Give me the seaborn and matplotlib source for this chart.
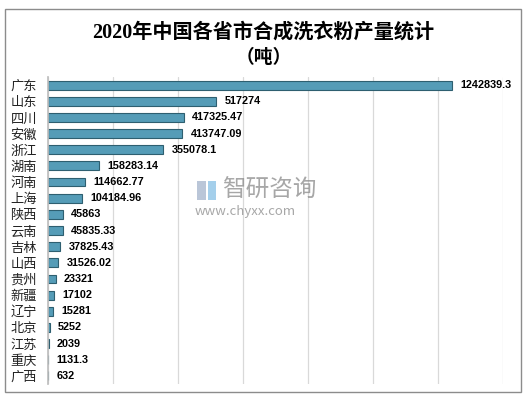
import matplotlib
matplotlib.use("Agg")
import matplotlib.pyplot as plt
import seaborn as sns
import pandas as pd
from matplotlib.patches import Rectangle

provinces = ["广东", "山东", "四川", "安徽", "浙江", "湖南", "河南", "上海", "陕西", "云南",
             "吉林", "山西", "贵州", "新疆", "辽宁", "北京", "江苏", "重庆", "广西"]
values = [1242839.3, 517274, 417325.47, 413747.09, 355078.1, 158283.14, 114662.77, 104184.96,
          45863, 45835.33, 37825.43, 31526.02, 23321, 17102, 15281, 5252, 2039, 1131.3, 632]
value_labels = ["1242839.3", "517274", "417325.47", "413747.09", "355078.1", "158283.14",
                "114662.77", "104184.96", "45863", "45835.33", "37825.43", "31526.02", "23321",
                "17102", "15281", "5252", "2039", "1131.3", "632"]
title_line1 = "2020年中国各省市合成洗衣粉产量统计"
title_line2 = "（吨）"

sns.set_theme(style="white")
plt.rcParams['font.family'] = ['Noto Sans CJK SC', 'DejaVu Sans']

W, H = 527, 397
fig = plt.figure(figsize=(W / 100, H / 100), dpi=100)
fig.patch.set_facecolor("white")

ax = fig.add_axes([48 / W, 1 - 384 / H, (503 - 48) / W, (384 - 77) / H])
df = pd.DataFrame({"province": provinces, "value": values})
sns.barplot(data=df, x="value", y="province", orient="h", ax=ax,
            color="#559CB7", edgecolor="#2E5F70", linewidth=0.8, width=0.55,
            saturation=1)

ax.set_xlim(0, 1400000)
ax.set_xticks(range(0, 1400001, 200000))
ax.set_xticklabels([])
ax.tick_params(axis="x", length=0)
ax.xaxis.grid(True, color="#D9D9D9", linewidth=0.9)
ax.set_axisbelow(True)
for s in ["top", "right", "bottom"]:
    ax.spines[s].set_visible(False)
ax.spines["left"].set_color("#BFBFBF")
ax.set_xlabel("")
ax.set_ylabel("")
ax.tick_params(axis="y", length=0, pad=8, labelsize=9.5, labelcolor="#222222")

for i, (v, t) in enumerate(zip(values, value_labels)):
    ax.annotate(t, xy=(v, i), xytext=(6, 0), textcoords="offset points",
                va="center", ha="left", fontsize=7.8, fontweight="bold",
                color="black", family=["Liberation Sans", "DejaVu Sans"])

# titles
tfam = ["Liberation Serif", "Noto Sans CJK SC", "DejaVu Sans"]
fig.text(0.5, 1 - 33 / H, title_line1, ha="center", va="center", fontsize=14.5,
         fontweight="bold", color="black", family=tfam)
fig.text(0.5, 1 - 58 / H, title_line2, ha="center", va="center", fontsize=13.5,
         fontweight="bold", color="black", family=tfam)

# watermark
fig.text(222 / W, 1 - 190 / H, "智研咨询", ha="left", va="center", fontsize=17,
         color="#8A8A8A", alpha=0.75)
fig.text(195 / W, 1 - 212 / H, "www.chyxx.com", ha="left", va="center", fontsize=9.5,
         color="#8A8A8A", alpha=0.75)
fig.patches.append(Rectangle((197 / W, 1 - 200 / H), 9 / W, 19 / H,
                             transform=fig.transFigure, facecolor="#A9B8CF",
                             edgecolor="none", alpha=0.8))
fig.patches.append(Rectangle((208 / W, 1 - 200 / H), 8 / W, 19 / H,
                             transform=fig.transFigure, facecolor="#8EC3E6",
                             edgecolor="none", alpha=0.8))

# outer border
fig.patches.append(Rectangle((5 / W, 1 - 392 / H), 516 / W, 383 / H,
                             transform=fig.transFigure, facecolor="none",
                             edgecolor="#8C8C8C", linewidth=1))

fig.savefig("out.png", dpi=100)
